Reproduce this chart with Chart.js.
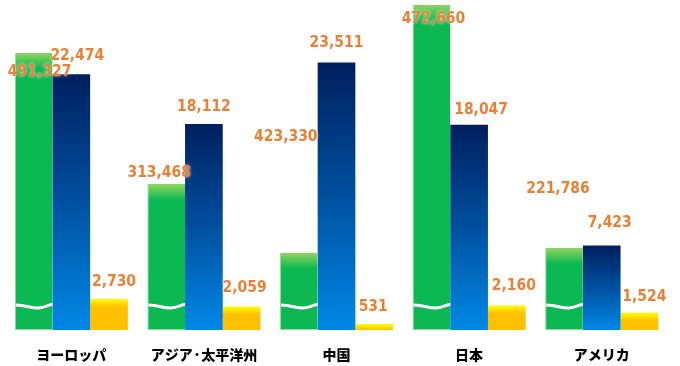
<!DOCTYPE html>
<html>
<head>
<meta charset="utf-8">
<script src="https://cdn.jsdelivr.net/npm/chart.js@4/dist/chart.umd.min.js"></script>
<style>
  html, body { margin: 0; padding: 0; background: #ffffff; }
  #wrap { width: 680px; height: 366px; position: relative; }
</style>
</head>
<body>
<div id="wrap"><canvas id="c" width="680" height="366"></canvas></div>
<script>
// ---- data ----
const categories = ["ヨーロッパ", "アジア·太平洋州", "中国", "日本", "アメリカ"];
// green series: printed values
const greenValues = [491327, 313468, 423330, 472660, 221786];
// green series: bar heights as drawn on the (broken) axis, in axis units
const greenDrawn = [24370, 12830, 6790, 28590, 7210];
// blue series
const blueValues = [22474, 18112, 23511, 18047, 7423];
// yellow series
const yellowValues = [2730, 2059, 531, 2160, 1524];

// label offsets (pixels, relative to bar top-centre) — styling only
const labelOffsets = [
  [[6, 19], [-7, -11], [-13, -116], [2, 14], [-6, -59]],
  [[6, -18], [0, -17], [0, -19], [12, -15], [8, -22]],
  [[5, -17], [3, -18], [-1, -17], [7, -19], [5, -16]]
];

function barGradient(ctx, stops, px) {
  const chart = ctx.chart;
  if (!chart.chartArea || !chart.scales.y) return stops[stops.length - 1][1];
  const y = chart.scales.y;
  const v = ctx.raw;
  const top = y.getPixelForValue(v);
  const bottom = y.getPixelForValue(0);
  const end = px ? Math.min(bottom, top + px) : bottom;
  const g = chart.ctx.createLinearGradient(0, top, 0, end === top ? top + 1 : end);
  stops.forEach(s => g.addColorStop(s[0], s[1]));
  return g;
}

const labelPlugin = {
  id: 'labels',
  afterDatasetsDraw(chart) {
    const c = chart.ctx;
    const texts = [greenValues, blueValues, yellowValues];
    // wave (axis break) on green bars
    const m0 = chart.getDatasetMeta(0);
    const base = chart.scales.y.getPixelForValue(0);
    c.save();
    c.strokeStyle = '#ffffff';
    c.lineWidth = 3;
    c.lineCap = 'butt';
    m0.data.forEach(el => {
      const l = el.x - el.width / 2 + 1, r = el.x + el.width / 2, w = r - l;
      const y0 = base - 25;
      c.beginPath();
      c.moveTo(l, y0);
      c.bezierCurveTo(l + 0.3 * w, y0, l + 0.4 * w, y0 + 3.5, l + 0.62 * w, y0 + 3);
      c.bezierCurveTo(l + 0.8 * w, y0 + 2.5, l + 0.9 * w, y0 - 0.5, r, y0 - 0.5);
      c.stroke();
    });
    c.restore();

    // value labels
    c.save();
    c.font = 'bold 15px "DejaVu Sans", Verdana, sans-serif';
    c.textAlign = 'center';
    c.textBaseline = 'middle';
    c.fillStyle = '#EB8035';
    c.shadowColor = 'rgba(255,255,255,0.9)';
    c.shadowBlur = 3;
    const sx = 0.93;
    texts.forEach((arr, di) => {
      const meta = chart.getDatasetMeta(di);
      meta.data.forEach((el, i) => {
        const off = labelOffsets[di][i];
        c.save();
        c.translate(el.x + off[0], el.y + off[1]);
        c.scale(sx, 1);
        c.fillText(arr[i].toLocaleString('en-US'), 0, 0);
        c.restore();
      });
    });
    c.restore();

    // category labels
    c.save();
    c.font = '900 14px "Noto Sans CJK JP", sans-serif';
    c.textAlign = 'center';
    c.textBaseline = 'middle';
    c.fillStyle = '#000000';
    categories.forEach((cat, i) => {
      c.fillText(cat, chart.scales.x.getPixelForValue(i), 355);
    });
    c.restore();
  }
};

new Chart(document.getElementById('c'), {
  type: 'bar',
  data: {
    labels: categories,
    datasets: [
      {
        label: 'green',
        data: greenDrawn,
        backgroundColor: ctx => barGradient(ctx, [[0, '#92D460'], [1, '#0BB852']], 16),
        borderColor: '#8FDDA0',
        borderWidth: { left: 1, right: 0, top: 0, bottom: 1 },
        borderSkipped: false
      },
      {
        label: 'blue',
        data: blueValues,
        backgroundColor: ctx => barGradient(ctx, [[0, '#001F5E'], [0.5, '#0050A0'], [1, '#0088E6']]),
        borderWidth: 0
      },
      {
        label: 'yellow',
        data: yellowValues,
        backgroundColor: ctx => barGradient(ctx, [[0, '#FFFF00'], [1, '#FFC000']], 8),
        borderWidth: 0
      }
    ]
  },
  options: {
    responsive: false,
    animation: false,
    layout: { padding: { left: 5, right: 12, top: 0, bottom: 36 } },
    categoryPercentage: 0.853,
    barPercentage: 1,
    plugins: { legend: { display: false }, tooltip: { enabled: false } },
    scales: {
      x: { display: false },
      y: { display: false, min: 0, max: 29000 }
    }
  },
  plugins: [labelPlugin]
});
</script>
</body>
</html>
